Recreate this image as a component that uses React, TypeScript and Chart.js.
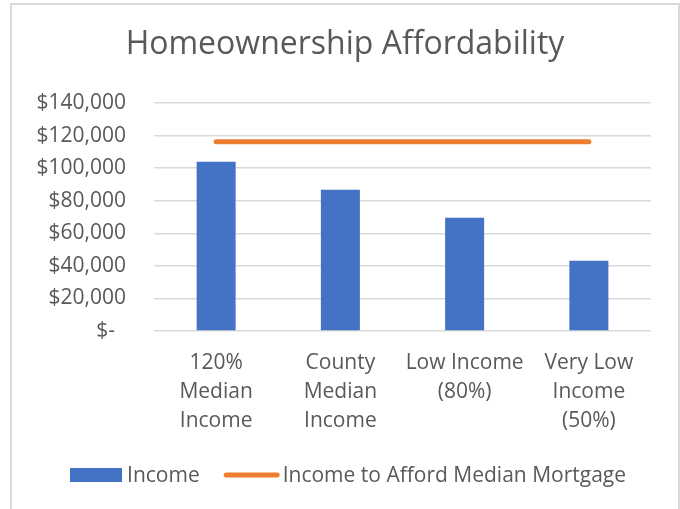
import React, { useEffect, useRef } from "react";
import { Chart, registerables } from "chart.js";

Chart.register(...registerables);

// ---- data ----
const chartTitle = "Homeownership Affordability";
const categories: string[][] = [
  ["120%", "Median", "Income"],
  ["County", "Median", "Income"],
  ["Low Income", "(80%)"],
  ["Very Low", "Income", "(50%)"],
];
const incomeLabel = "Income";
const incomeValues = [104000, 86700, 69500, 43200];
const affordLabel = "Income to Afford Median Mortgage";
const affordValues = [116200, 116200, 116200, 116200];
const yMin = 0;
const yMax = 140000;
const yStep = 20000;

// ---- styles ----
const FONT = "'Open Sans', 'Noto Sans', sans-serif";
const TEXT = "#595959";
const BLUE = "#4472C4";
const ORANGE = "#ED7D31";
const GRID = "#d9d9d9";

const formatMoney = (v: number) =>
  v === 0 ? "$-  " : "$" + Math.round(v).toLocaleString("en-US");

const legendPlugin = {
  id: "excelLegend",
  afterDraw(chart: any) {
    const ctx: CanvasRenderingContext2D = chart.ctx;
    ctx.save();
    ctx.font = `21px ${FONT}`;
    ctx.textBaseline = "middle";
    ctx.textAlign = "left";
    const y = chart.height - 34;
    const items = chart.data.datasets.map((ds: any) => {
      const isLine = ds.type === "line";
      const symW = isLine ? 56 : 52;
      const gap = isLine ? 3 : 5;
      const w = ctx.measureText(ds.label).width;
      return { ds, isLine, symW, gap, w, total: symW + gap + w };
    });
    const spacing = 24;
    const totalW =
      items.reduce((s: number, it: any) => s + it.total, 0) +
      spacing * (items.length - 1);
    let x = chart.width / 2 + 3 - totalW / 2;
    for (const it of items) {
      if (it.isLine) {
        ctx.strokeStyle = it.ds.borderColor;
        ctx.lineWidth = 5;
        ctx.lineCap = "round";
        ctx.beginPath();
        ctx.moveTo(x + 2.5, y);
        ctx.lineTo(x + it.symW - 2.5, y);
        ctx.stroke();
      } else {
        ctx.fillStyle = it.ds.backgroundColor;
        ctx.fillRect(x, y - 7, it.symW, 14);
      }
      ctx.fillStyle = TEXT;
      ctx.fillText(it.ds.label, x + it.symW + it.gap, y + 1);
      x += it.total + spacing;
    }
    ctx.restore();
  },
};

export default function App() {
  const canvasRef = useRef<HTMLCanvasElement | null>(null);

  useEffect(() => {
    if (!canvasRef.current) return;
    Chart.defaults.font.family = FONT;
    Chart.defaults.color = TEXT;
    const chart = new Chart(canvasRef.current, {
      type: "bar",
      data: {
        labels: categories,
        datasets: [
          {
            type: "bar",
            label: incomeLabel,
            data: incomeValues,
            backgroundColor: BLUE,
            borderWidth: 0,
            barPercentage: 0.314,
            categoryPercentage: 1,
            order: 1,
          } as any,
          {
            type: "line",
            label: affordLabel,
            data: affordValues,
            borderColor: ORANGE,
            backgroundColor: ORANGE,
            borderWidth: 5,
            borderCapStyle: "round",
            pointRadius: 0,
            pointHoverRadius: 0,
            fill: false,
            tension: 0,
            order: 0,
          } as any,
        ],
      },
      options: {
        responsive: false,
        animation: false,
        devicePixelRatio: 1,
        layout: { padding: 0 },
        plugins: {
          legend: { display: false },
          tooltip: { enabled: false },
          title: {
            display: true,
            text: chartTitle,
            color: TEXT,
            font: { size: 32, weight: "normal", family: FONT, lineHeight: 1.2 },
            padding: { top: 21, bottom: 38.6 },
          },
        },
        scales: {
          x: {
            grid: { display: false, drawTicks: false },
            border: { display: false },
            ticks: {
              color: TEXT,
              font: { size: 21, family: FONT, lineHeight: 1.4 },
              padding: 17,
              maxRotation: 0,
              autoSkip: false,
            },
            afterFit: (scale: any) => {
              scale.height = 178;
            },
          },
          y: {
            min: yMin,
            max: yMax,
            grid: { color: GRID, lineWidth: 1.5, drawTicks: false },
            border: { display: false },
            ticks: {
              stepSize: yStep,
              color: TEXT,
              font: { size: 21, family: FONT },
              padding: 28,
              callback: (v: any) => formatMoney(Number(v)),
            },
            afterFit: (scale: any) => {
              scale.width = 142;
            },
          },
          yRightSpace: {
            position: "right",
            display: true,
            min: yMin,
            max: yMax,
            grid: { display: false, drawTicks: false },
            border: { display: false },
            ticks: { display: false },
            afterFit: (scale: any) => {
              scale.width = 27;
            },
          },
        },
      },
      plugins: [legendPlugin],
    });
    return () => chart.destroy();
  }, []);

  return (
    <div
      style={{
        position: "absolute",
        left: 0,
        top: 0,
        width: 680,
        height: 509,
        overflow: "hidden",
        background: "#ffffff",
      }}
    >
      <div
        style={{
          position: "absolute",
          left: 10,
          top: 3,
          width: 666,
          height: 512,
          border: "2px solid #d9d9d9",
          background: "#ffffff",
        }}
      >
        <canvas ref={canvasRef} width={666} height={504} style={{ display: "block" }} />
      </div>
    </div>
  );
}
